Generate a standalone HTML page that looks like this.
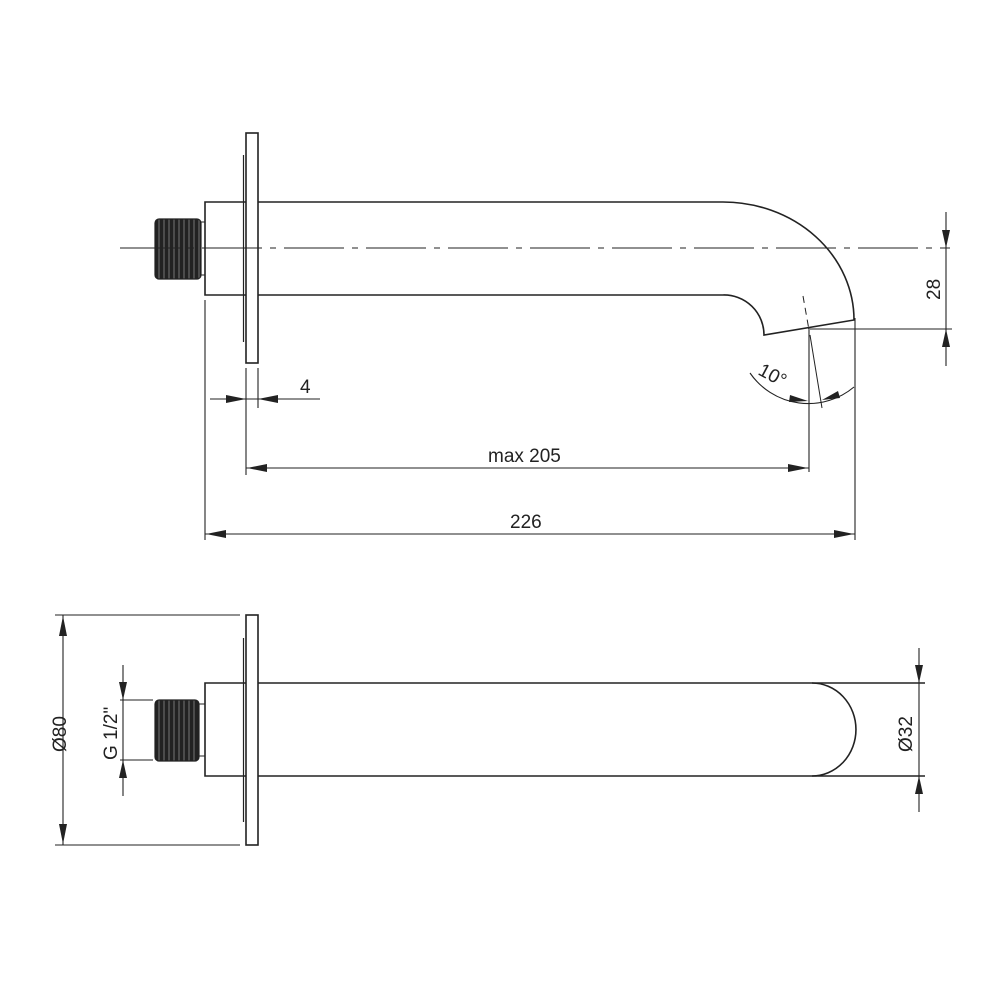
<!DOCTYPE html>
<html><head><meta charset="utf-8"><style>
html,body{margin:0;padding:0;background:#fff}
svg{display:block}
text{font-family:"Liberation Sans",sans-serif;font-size:19px;fill:#222}
</style></head><body>
<svg width="1000" height="1000" viewBox="0 0 1000 1000" xmlns="http://www.w3.org/2000/svg">
<defs>
<pattern id="thr" width="5" height="10" patternUnits="userSpaceOnUse">
<rect width="5" height="10" fill="#222"/><line x1="4" y1="0" x2="4" y2="10" stroke="#777" stroke-width="1"/>
</pattern>
</defs>
<g fill="none" stroke="#222" stroke-width="1.6">
<rect x="246" y="133" width="12" height="230"/>
<line x1="243.5" y1="155" x2="243.5" y2="342" stroke-width="1.2"/>
<polyline points="246,202 205,202 205,295 246,295"/>
<line x1="199" y1="222" x2="205" y2="222" stroke-width="1"/>
<line x1="199" y1="275" x2="205" y2="275" stroke-width="1"/>
<rect x="155" y="219" width="46" height="60" rx="4" fill="url(#thr)" stroke="#222" stroke-width="1.2"/>
<path d="M258 202 L723 202 A131 118 0 0 1 854 320 L764 335 A40 40 0 0 0 723 295 L258 295"/>
<line x1="120" y1="248" x2="950" y2="248" stroke-width="1.1" stroke-dasharray="60,8,6,8"/>
<line x1="808" y1="329" x2="952" y2="329" stroke-width="1.1"/>
<line x1="946" y1="212" x2="946" y2="366" stroke-width="1.1"/>
<line x1="809" y1="330" x2="809" y2="472" stroke-width="1.1"/>
<line x1="855" y1="318" x2="855" y2="540" stroke-width="1.1"/>
<line x1="803" y1="296" x2="809" y2="330" stroke-width="1" stroke-dasharray="7,5"/>
<line x1="810" y1="335" x2="822" y2="408" stroke-width="1"/>
<path d="M750 373 A71 71 0 0 0 854 387" stroke-width="1.1"/>
<line x1="246" y1="368" x2="246" y2="475" stroke-width="1.1"/>
<line x1="258" y1="368" x2="258" y2="408" stroke-width="1.1"/>
<line x1="210" y1="399" x2="320" y2="399" stroke-width="1.1"/>
<line x1="246" y1="468" x2="809" y2="468" stroke-width="1.1"/>
<line x1="205" y1="300" x2="205" y2="540" stroke-width="1.1"/>
<line x1="205" y1="534" x2="855" y2="534" stroke-width="1.1"/>
<rect x="246" y="615" width="12" height="230"/>
<line x1="243.5" y1="638" x2="243.5" y2="822" stroke-width="1.2"/>
<polyline points="246,683 205,683 205,776 246,776"/>
<line x1="198" y1="704" x2="205" y2="704" stroke-width="1"/>
<line x1="198" y1="756" x2="205" y2="756" stroke-width="1"/>
<rect x="155" y="700" width="44" height="61" rx="4" fill="url(#thr)" stroke="#222" stroke-width="1.2"/>
<line x1="258" y1="683" x2="925" y2="683"/>
<line x1="258" y1="776" x2="925" y2="776"/>
<path d="M812 683 A44 46.5 0 0 1 812 776"/>
<line x1="55" y1="615" x2="240" y2="615" stroke-width="1.1"/>
<line x1="55" y1="845" x2="240" y2="845" stroke-width="1.1"/>
<line x1="63" y1="615" x2="63" y2="845" stroke-width="1.1"/>
<line x1="120" y1="700" x2="153" y2="700" stroke-width="1.1"/>
<line x1="120" y1="760" x2="153" y2="760" stroke-width="1.1"/>
<line x1="123" y1="665" x2="123" y2="796" stroke-width="1.1"/>
<line x1="919" y1="648" x2="919" y2="812" stroke-width="1.1"/>
</g>
<g fill="#222" stroke="none">
<polygon points="946,248 942,230 950,230"/>
<polygon points="946,329 942,347 950,347"/>
<polygon points="246,399 226,395 226,403"/>
<polygon points="258,399 278,395 278,403"/>
<polygon points="247,468 267,464 267,472"/>
<polygon points="808,468 788,464 788,472"/>
<polygon points="206,534 226,530 226,538"/>
<polygon points="854,534 834,530 834,538"/>
<polygon points="808,401 790,395 789,402"/>
<polygon points="822,400 838,391 840,398"/>
<polygon points="63,616 59,636 67,636"/>
<polygon points="63,844 59,824 67,824"/>
<polygon points="123,700 119,682 127,682"/>
<polygon points="123,760 119,778 127,778"/>
<polygon points="919,683 915,665 923,665"/>
<polygon points="919,776 915,794 923,794"/>
</g>
<text x="300" y="393">4</text>
<text x="488" y="462">max 205</text>
<text x="510" y="528">226</text>
<text transform="translate(940,300) rotate(-90)">28</text>
<text transform="translate(757,374) rotate(28)">10°</text>
<text transform="translate(66,752) rotate(-90)">Ø80</text>
<text transform="translate(117,760) rotate(-90)">G 1/2"</text>
<text transform="translate(912,752) rotate(-90)">Ø32</text>
</svg>
</body></html>
